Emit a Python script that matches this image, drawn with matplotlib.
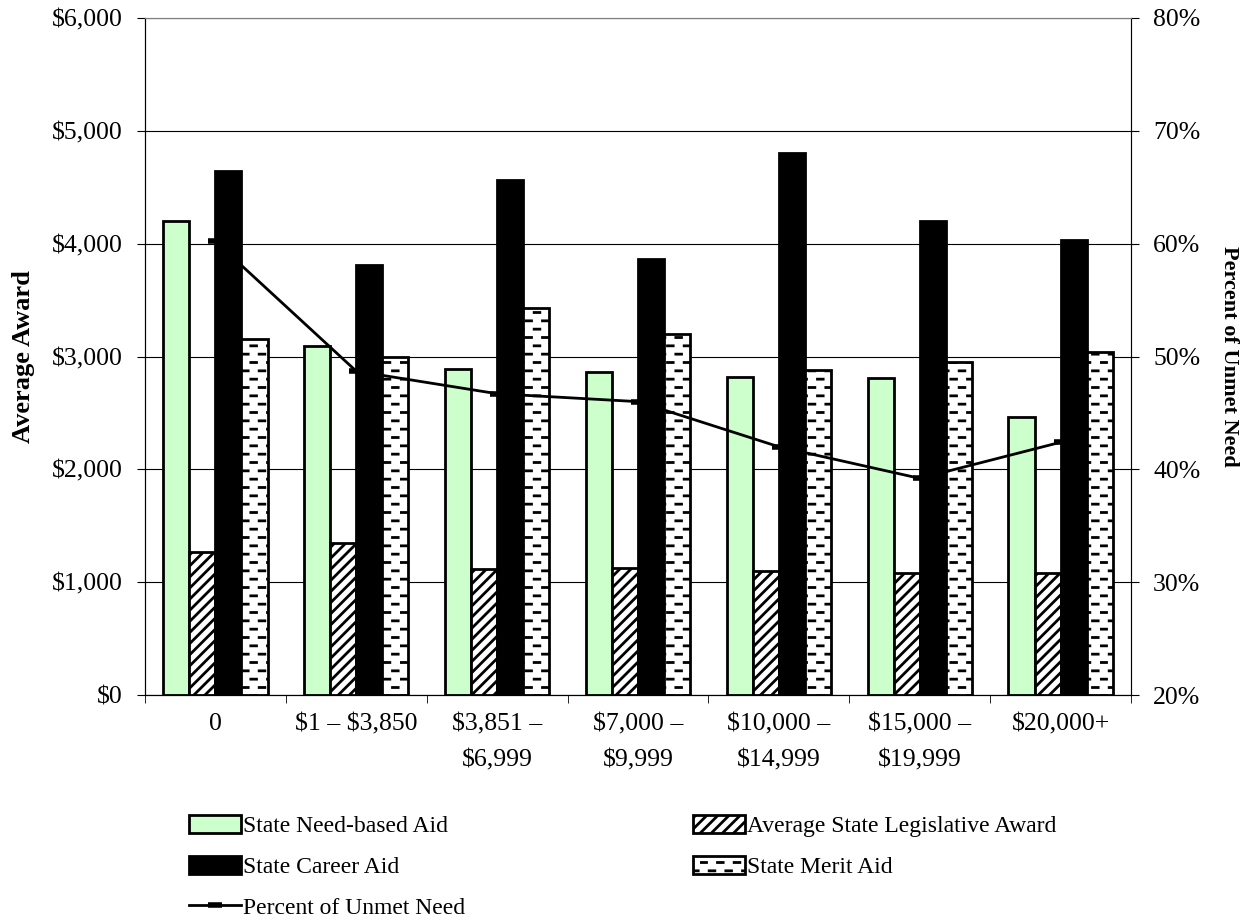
import numpy as np
import matplotlib
matplotlib.use('Agg')
import matplotlib.pyplot as plt
import matplotlib.ticker as mticker
import matplotlib.hatch as mhatch
from matplotlib.path import Path

# data
categories = ['0', '$1 – $3,850', '$3,851 –\n$6,999', '$7,000 –\n$9,999',
              '$10,000 –\n$14,999', '$15,000 –\n$19,999', '$20,000+']
need_based = [4200, 3095, 2890, 2860, 2820, 2810, 2460]
legislative = [1265, 1345, 1120, 1125, 1095, 1085, 1080]
career = [4640, 3810, 4560, 3860, 4800, 4205, 4030]
merit = [3155, 3000, 3430, 3200, 2880, 2950, 3040]
unmet_pct = [60.2, 48.7, 46.7, 46.0, 42.0, 39.2, 42.4]


class DashHatch(mhatch.HatchPatternBase):
    """staggered short dashes (excel 'dashed horizontal' pattern), uses '*'"""
    def __init__(self, hatch, density):
        self.num_rows = int(hatch.count('*') * density)
        self.per_row = 6
        self.num_vertices = self.num_rows * self.per_row * 2

    def set_vertices_and_codes(self, vertices, codes):
        period = 1.0 / self.per_row
        dash = 0.34 * period
        k = 0
        for i in range(self.num_rows):
            y = (i + 0.5) / self.num_rows
            off = 0.5 * period if i % 2 else 0.0
            for j in range(self.per_row):
                x0 = j * period + off + 0.05 * period
                vertices[k] = (x0, y)
                vertices[k + 1] = (x0 + dash, y)
                codes[k] = Path.MOVETO
                codes[k + 1] = Path.LINETO
                k += 2


mhatch._hatch_types = [t for t in mhatch._hatch_types if t is not mhatch.Stars] + [DashHatch]

plt.rcParams['font.family'] = ['Liberation Serif', 'DejaVu Serif']
plt.rcParams['font.size'] = 18.5
plt.rcParams['text.parse_math'] = False
plt.rcParams['hatch.linewidth'] = 2.0

fig = plt.figure(figsize=(12.52, 9.24), dpi=100)
ax = fig.add_axes([145/1252, 1-695/924, (1131-145)/1252, (695-18)/924])
ax2 = ax.twinx()

x = np.arange(len(categories))
w = 0.185
edge = dict(edgecolor='black', linewidth=2)
b1 = ax.bar(x - 1.5*w, need_based, w, color='#ccffcc', **edge, zorder=2)
b2 = ax.bar(x - 0.5*w, legislative, w, color='white', hatch='///', **edge, zorder=2)
b3 = ax.bar(x + 0.5*w, career, w, color='black', **edge, zorder=2)
b4 = ax.bar(x + 1.5*w, merit, w, color='white', hatch='**', **edge, zorder=2)

ax.set_xlim(-0.5, len(categories) - 0.5)
ax.set_ylim(0, 6000)
ax.set_yticks(np.arange(0, 6001, 1000))
ax.yaxis.set_major_formatter(mticker.FuncFormatter(lambda v, p: '${:,.0f}'.format(v)))
ax.grid(axis='y', color='black', linewidth=0.8, zorder=0)
ax.set_axisbelow(True)
ax.set_xticks(x)
ax.set_xticklabels(categories, linespacing=1.85)
ax.set_xticks(np.arange(-0.5, len(categories) + 0.5, 1), minor=True)
ax.tick_params(axis='x', which='major', length=0, pad=13)
ax.tick_params(axis='x', which='minor', length=6, direction='out')
ax.tick_params(axis='y', length=6, direction='out', pad=10)
ax.set_ylabel('Average Award', fontweight='bold', fontsize=19, labelpad=12)
for s in ['top', 'right']:
    ax.spines[s].set_color('#808080')

ax2.set_ylim(20, 80)
ax2.set_yticks(np.arange(20, 81, 10))
ax2.yaxis.set_major_formatter(mticker.FuncFormatter(lambda v, p: '{:.0f}%'.format(v)))
ax2.tick_params(axis='y', length=6, direction='out', pad=10)
ax2.set_ylabel('Percent of Unmet Need', fontweight='bold', fontsize=16, rotation=270, labelpad=28)
ln, = ax2.plot(x, unmet_pct, color='black', linewidth=2, marker='_',
               markersize=10, markeredgewidth=4, zorder=3)
ax2.spines['top'].set_color('#808080')

# legend: two columns placed separately
leg_kw = dict(loc='upper left', frameon=False, handlelength=2.2, handleheight=0.75,
              handletextpad=0.05, labelspacing=0.8, fontsize=17, borderaxespad=0)
fig.legend([b1, b3, ln], ['State Need-based Aid', 'State Career Aid', 'Percent of Unmet Need'],
           bbox_to_anchor=(180/1252, 1-806/924), **leg_kw)
fig.legend([b2, b4], ['Average State Legislative Award', 'State Merit Aid'],
           bbox_to_anchor=(684/1252, 1-806/924), **leg_kw)

plt.savefig('out.png', dpi=100)
